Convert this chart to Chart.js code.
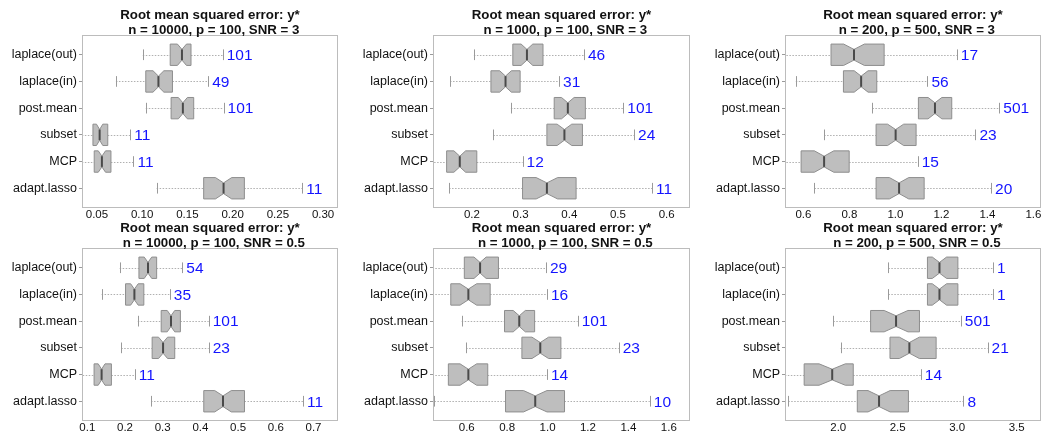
<!DOCTYPE html>
<html>
<head>
<meta charset="utf-8">
<title>Root mean squared error: y*</title>
<script src="https://cdn.jsdelivr.net/npm/chart.js@4"></script>
<style>
    body { margin: 0; background: #ffffff; }
    #wrap { position: relative; width: 1050px; height: 440px; overflow: hidden; }
    #wrap canvas { position: absolute; }
</style>
</head>
<body>
<div id="wrap"></div>
<script>
// Methods, top to bottom
const methods = ['laplace(out)', 'laplace(in)', 'post.mean', 'subset', 'MCP', 'adapt.lasso'];

const mainTitle = 'Root mean squared error: y*';
const subTitles = [
    'n = 10000, p = 100, SNR = 3', 'n = 1000, p = 100, SNR = 3', 'n = 200, p = 500, SNR = 3',
    'n = 10000, p = 100, SNR = 0.5', 'n = 1000, p = 100, SNR = 0.5', 'n = 200, p = 500, SNR = 0.5'
];

// Box stats per method: [lower whisker, Q1, median, Q3, upper whisker]
const stats1 = [[0.1007, 0.131, 0.144, 0.154, 0.189], [0.071, 0.104, 0.118, 0.1335, 0.173], [0.104, 0.132, 0.145, 0.157, 0.190],
                [0.030, 0.0456, 0.053, 0.062, 0.0868], [0.030, 0.047, 0.0555, 0.0655, 0.0904], [0.116, 0.168, 0.190, 0.213, 0.277]];
const stats2 = [[0.204, 0.284, 0.313, 0.346, 0.430], [0.155, 0.239, 0.269, 0.299, 0.379], [0.280, 0.369, 0.397, 0.433, 0.511],
                [0.244, 0.354, 0.390, 0.427, 0.533], [0.110, 0.148, 0.175, 0.210, 0.304], [0.153, 0.304, 0.354, 0.414, 0.570]];
const stats3 = [[0.500, 0.720, 0.820, 0.951, 1.267], [0.567, 0.774, 0.851, 0.919, 1.139], [0.900, 1.100, 1.172, 1.245, 1.452],
                [0.690, 0.916, 1.001, 1.090, 1.348], [0.500, 0.590, 0.690, 0.799, 1.097], [0.648, 0.916, 1.016, 1.125, 1.416]];
const stats4 = [[0.186, 0.237, 0.261, 0.284, 0.352], [0.138, 0.2015, 0.225, 0.250, 0.319], [0.234, 0.296, 0.322, 0.347, 0.422],
                [0.190, 0.272, 0.301, 0.332, 0.422], [0.080, 0.118, 0.138, 0.164, 0.226], [0.269, 0.409, 0.460, 0.517, 0.672]];
const stats5 = [[0.400, 0.588, 0.666, 0.757, 0.992], [0.400, 0.521, 0.608, 0.716, 0.997], [0.575, 0.787, 0.860, 0.936, 1.149],
                [0.597, 0.873, 0.964, 1.066, 1.352], [0.400, 0.509, 0.608, 0.704, 0.997], [0.440, 0.792, 0.939, 1.084, 1.506]];
const stats6 = [[2.421, 2.750, 2.851, 3.006, 3.301], [2.421, 2.750, 2.851, 3.006, 3.301], [1.958, 2.272, 2.486, 2.683, 3.031],
                [2.020, 2.435, 2.598, 2.823, 3.256], [1.500, 1.713, 1.949, 2.126, 2.694], [1.579, 2.160, 2.343, 2.590, 3.053]];

// Notch half widths (median +/- this)
const notch1 = [0.005, 0.006, 0.005, 0.0035, 0.004, 0.009];
const notch2 = [0.012, 0.012, 0.013, 0.015, 0.012, 0.022];
const notch3 = [0.045, 0.030, 0.030, 0.035, 0.042, 0.042];
const notch4 = [0.010, 0.010, 0.010, 0.012, 0.009, 0.022];
const notch5 = [0.030, 0.041, 0.030, 0.041, 0.041, 0.058];
const notch6 = [0.060, 0.060, 0.100, 0.084, 0.110, 0.093];

// Blue numbers next to the whiskers
const counts1 = [101, 49, 101, 11, 11, 11];
const counts2 = [46, 31, 101, 24, 12, 11];
const counts3 = [17, 56, 501, 23, 15, 20];
const counts4 = [54, 35, 101, 23, 11, 11];
const counts5 = [29, 16, 101, 23, 14, 10];
const counts6 = [1, 1, 501, 21, 14, 8];

// x axis tick labels and limits
const ticks1 = ['0.05', '0.10', '0.15', '0.20', '0.25', '0.30'];
const ticks2 = ['0.2', '0.3', '0.4', '0.5', '0.6'];
const ticks3 = ['0.6', '0.8', '1.0', '1.2', '1.4', '1.6'];
const ticks4 = ['0.1', '0.2', '0.3', '0.4', '0.5', '0.6', '0.7'];
const ticks5 = ['0.6', '0.8', '1.0', '1.2', '1.4', '1.6'];
const ticks6 = ['2.0', '2.5', '3.0', '3.5'];
const limits1 = [0.0335, 0.3165];
const limits2 = [0.120, 0.648];
const limits3 = [0.520, 1.633];
const limits4 = [0.086, 0.765];
const limits5 = [0.433, 1.705];
const limits6 = [1.552, 3.705];

const FONT = '"Liberation Sans", Arial, Helvetica, sans-serif';

// Draws notched boxes, whiskers, frame, counts and titles
const notchBoxPlugin = {
    id: 'notchBoxes',
    afterDatasetsDraw(chart, args, opts) {
        const ctx = chart.ctx;
        const a = chart.chartArea;
        const xs = chart.scales.x;
        const ys = chart.scales.y;
        const pts = chart.data.datasets[0].data;

        ctx.save();
        ctx.beginPath();
        ctx.rect(a.left, a.top, a.right - a.left, a.bottom - a.top);
        ctx.clip();

        pts.forEach(function(p) {
            const yc = Math.round(ys.getPixelForValue(p.y)) + 0.5;
            const yt = ys.getPixelForValue(p.y - 0.4);
            const yb = ys.getPixelForValue(p.y + 0.4);
            const ytn = ys.getPixelForValue(p.y - 0.2);
            const ybn = ys.getPixelForValue(p.y + 0.2);
            const xLo = xs.getPixelForValue(p.lo);
            const xQ1 = xs.getPixelForValue(p.q1);
            const xMed = xs.getPixelForValue(p.med);
            const xQ3 = xs.getPixelForValue(p.q3);
            const xHi = xs.getPixelForValue(p.hi);
            const xN1 = xs.getPixelForValue(p.med - p.notch);
            const xN2 = xs.getPixelForValue(p.med + p.notch);

            // whiskers
            ctx.strokeStyle = '#b0b0b0';
            ctx.lineWidth = 1;
            ctx.setLineDash([1.5, 1.5]);
            ctx.beginPath();
            ctx.moveTo(xLo, yc); ctx.lineTo(xQ1, yc);
            ctx.moveTo(xQ3, yc); ctx.lineTo(xHi, yc);
            ctx.stroke();
            ctx.setLineDash([]);

            // staples
            ctx.strokeStyle = '#9a9a9a';
            ctx.beginPath();
            ctx.moveTo(Math.round(xLo) + 0.5, ytn); ctx.lineTo(Math.round(xLo) + 0.5, ybn);
            ctx.moveTo(Math.round(xHi) + 0.5, ytn); ctx.lineTo(Math.round(xHi) + 0.5, ybn);
            ctx.stroke();

            // notched box
            ctx.beginPath();
            ctx.moveTo(xQ1, yt);
            ctx.lineTo(xN1, yt);
            ctx.lineTo(xMed, ytn);
            ctx.lineTo(xN2, yt);
            ctx.lineTo(xQ3, yt);
            ctx.lineTo(xQ3, yb);
            ctx.lineTo(xN2, yb);
            ctx.lineTo(xMed, ybn);
            ctx.lineTo(xN1, yb);
            ctx.lineTo(xQ1, yb);
            ctx.closePath();
            ctx.fillStyle = '#bebebe';
            ctx.fill();
            ctx.strokeStyle = '#8e8e8e';
            ctx.stroke();

            // median
            ctx.strokeStyle = '#4a4a4a';
            ctx.lineWidth = 2;
            ctx.beginPath();
            ctx.moveTo(xMed, ytn); ctx.lineTo(xMed, ybn);
            ctx.stroke();
        });
        ctx.restore();

        // frame around the plot region
        ctx.save();
        ctx.strokeStyle = '#bcbcbc';
        ctx.lineWidth = 1;
        ctx.strokeRect(a.left + 0.5, a.top + 0.5, a.right - a.left - 1, a.bottom - a.top - 1);

        // counts
        ctx.fillStyle = '#1414ff';
        ctx.font = '15.5px ' + FONT;
        ctx.textAlign = 'left';
        ctx.textBaseline = 'middle';
        pts.forEach(function(p) {
            ctx.fillText(String(p.count), xs.getPixelForValue(p.hi) + 4, ys.getPixelForValue(p.y) + 1);
        });

        // two-line title centred over the plot
        const cx = (a.left + a.right) / 2;
        ctx.fillStyle = '#111111';
        ctx.font = 'bold 13.3px ' + FONT;
        ctx.textAlign = 'center';
        ctx.textBaseline = 'alphabetic';
        ctx.fillText(opts.title[0], cx, a.top - 16.5);
        ctx.fillText(opts.title[1], cx + 2, a.top - 1.5);
        ctx.restore();
    }
};

// Create one boxplot panel
function createPanel(index, stats, notch, counts, tickLabels, limits) {
    const col = index % 3;
    const row = Math.floor(index / 3);
    const plotLeft = [82, 83, 85][col];
    const padRight = [12, 10, 9][col];
    const plotTop = row === 0 ? 35 : 28;
    const axisHeight = row === 0 ? 12 : 19;

    const canvas = document.createElement('canvas');
    canvas.width = 350;
    canvas.height = 220;
    canvas.style.left = (col * 350) + 'px';
    canvas.style.top = (row * 220) + 'px';
    document.getElementById('wrap').appendChild(canvas);

    const points = stats.map(function(s, i) {
        return { x: s[2], y: i, lo: s[0], q1: s[1], med: s[2], q3: s[3], hi: s[4], notch: notch[i], count: counts[i] };
    });
    const tickValues = tickLabels.map(function(t) { return parseFloat(t); });

    new Chart(canvas, {
        type: 'scatter',
        data: {
            datasets: [{
                data: points,
                pointRadius: 0,
                pointHoverRadius: 0,
                showLine: false
            }]
        },
        options: {
            responsive: false,
            animation: false,
            events: [],
            layout: {
                padding: { top: plotTop, right: padRight, bottom: 0, left: 0 }
            },
            plugins: {
                legend: { display: false },
                tooltip: { enabled: false },
                title: { display: false },
                notchBoxes: { title: [mainTitle, ' ' + subTitles[index]] }
            },
            scales: {
                x: {
                    type: 'linear',
                    bounds: 'data',
                    min: limits[0],
                    max: limits[1],
                    afterBuildTicks: function(scale) {
                        scale.ticks = tickValues.map(function(v) { return { value: v }; });
                    },
                    afterFit: function(scale) { scale.height = axisHeight; },
                    grid: { display: false, drawTicks: false },
                    border: { display: false },
                    ticks: {
                        autoSkip: false,
                        maxRotation: 0,
                        padding: 0,
                        color: '#111111',
                        font: { family: FONT, size: 11.5 },
                        callback: function(value, i) { return tickLabels[i]; }
                    }
                },
                y: {
                    type: 'linear',
                    reverse: true,
                    bounds: 'data',
                    min: -0.74,
                    max: 5.74,
                    afterBuildTicks: function(scale) {
                        scale.ticks = methods.map(function(m, i) { return { value: i }; });
                    },
                    afterFit: function(scale) { scale.width = plotLeft; },
                    grid: {
                        display: true,
                        drawOnChartArea: false,
                        drawTicks: true,
                        tickLength: 3,
                        tickColor: '#9a9a9a'
                    },
                    border: { display: false },
                    ticks: {
                        autoSkip: false,
                        padding: 2,
                        color: '#111111',
                        font: { family: FONT, size: 12.5 },
                        callback: function(value) { return methods[value]; }
                    }
                }
            }
        },
        plugins: [notchBoxPlugin]
    });
}

document.addEventListener('DOMContentLoaded', function() {
    createPanel(0, stats1, notch1, counts1, ticks1, limits1);
    createPanel(1, stats2, notch2, counts2, ticks2, limits2);
    createPanel(2, stats3, notch3, counts3, ticks3, limits3);
    createPanel(3, stats4, notch4, counts4, ticks4, limits4);
    createPanel(4, stats5, notch5, counts5, ticks5, limits5);
    createPanel(5, stats6, notch6, counts6, ticks6, limits6);
});
</script>
</body>
</html>
